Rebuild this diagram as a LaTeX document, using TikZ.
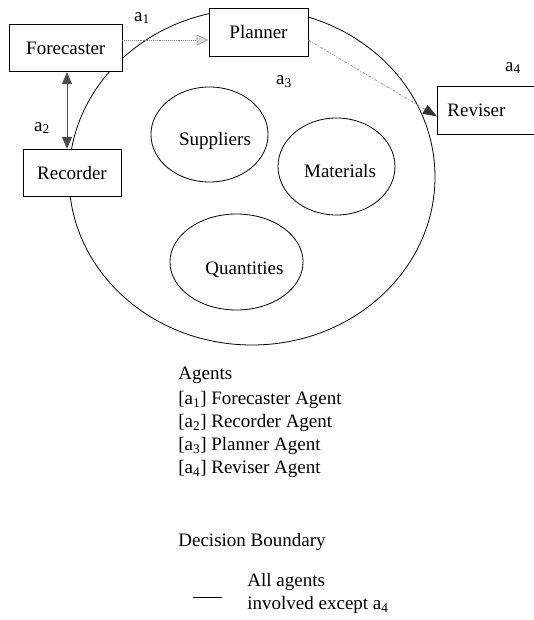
\documentclass[tikz,border=0pt]{standalone}
\usepackage{fontspec}
\setmainfont{Liberation Serif}
\usetikzlibrary{arrows.meta,shapes.geometric}
\newcommand{\offtxt}[3]{\hspace*{#1}\raisebox{#2}[0pt][0pt]{#3}}
\begin{document}
\begin{tikzpicture}[x=1pt,y=-1pt,
  line width=0.8pt,
  every node/.style={font=\fontsize{19}{23}\selectfont},
  agentbox/.style={draw, fill=white, inner sep=0pt, minimum height=47.5pt},
  blob/.style={draw, ellipse, inner sep=0pt},
  tag/.style={inner sep=0pt},
  legend/.style={anchor=west, inner sep=0pt, text height=13pt, text depth=4pt},
  flowA/.style={gray, densely dotted, line width=0.9pt, -{Triangle[length=12pt,width=11pt,fill=gray!30,color=gray!70,line width=0.8pt]}},
  flowB/.style={gray!60!black, line width=1pt, {Triangle[length=12pt,width=10pt]}-{Triangle[length=12pt,width=10pt]}},
  flowC/.style={gray!80, dash pattern=on 3pt off 1.5pt on 1pt off 1.5pt, line width=0.8pt, -{Triangle[length=14pt,width=10pt,fill=black!80,color=black!80]}}
]
\useasboundingbox (0,0) rectangle (534,620);
\clip (0,0) rectangle (534,620);

% decision boundary
\node[draw, ellipse, inner sep=0pt, minimum width=366pt, minimum height=336pt] (boundary) at (252,177) {};

% agents
\node[agentbox, minimum width=112.5pt] (fore) at (65.75,48) {Forecaster};
\node[agentbox, minimum width=99pt] (plan) at (258.5,32.5) {Planner};
\node[agentbox, minimum width=98pt] (rec) at (72,173) {Recorder};
\node[agentbox, anchor=west, inner xsep=10pt, text width=90pt, align=left] (rev) at (437,110.5) {Reviser};

% data sets
\node[blob, minimum width=113pt, minimum height=95pt] (sup) at (209.5,134.5) {\offtxt{11pt}{-11pt}{Suppliers}};
\node[blob, minimum width=117pt, minimum height=97pt] (mat) at (336.5,166.5) {\offtxt{7pt}{-11pt}{Materials}};
\node[blob, minimum width=117pt, minimum height=96pt] (qty) at (236.5,262) {\offtxt{16pt}{-12.5pt}{Quantities}};

% connectors
\coordinate (vx) at (67,0);
\draw[flowA] ([yshift=8pt]fore.east) -- ([yshift=8pt]fore.east -| plan.west);
\draw[flowB] (fore.south -| vx) -- (rec.north -| vx);
\draw[flowC] ([yshift=-7.5pt]plan.east) -- ([yshift=-6pt]rev.west);

% agent labels
\node[tag] (l1) at (142,18) {a\textsubscript{1}};
\node[tag] (l2) at (42,128) {a\textsubscript{2}};
\node[tag] (l3) at (284,82) {a\textsubscript{3}};
\node[tag] (l4) at (513,68) {a\textsubscript{4}};

% legend
\node[legend] (lg0) at (178,375) {Agents};
\node[legend] (lg1) at (178,400) {[a\textsubscript{1}] Forecaster Agent};
\node[legend] (lg2) at (178,423) {[a\textsubscript{2}] Recorder Agent};
\node[legend] (lg3) at (178,446) {[a\textsubscript{3}] Planner Agent};
\node[legend] (lg4) at (178,469) {[a\textsubscript{4}] Reviser Agent};
\node[legend] (dec) at (178,542) {Decision Boundary};
\node[anchor=west, align=left, inner sep=0pt] (all) at (247,593.5) {All agents\\involved except a\textsubscript{4}};
\coordinate (k1) at (193,597);
\coordinate (k2) at (222,597);
\draw (k1) -- (k2);
\end{tikzpicture}
\end{document}
